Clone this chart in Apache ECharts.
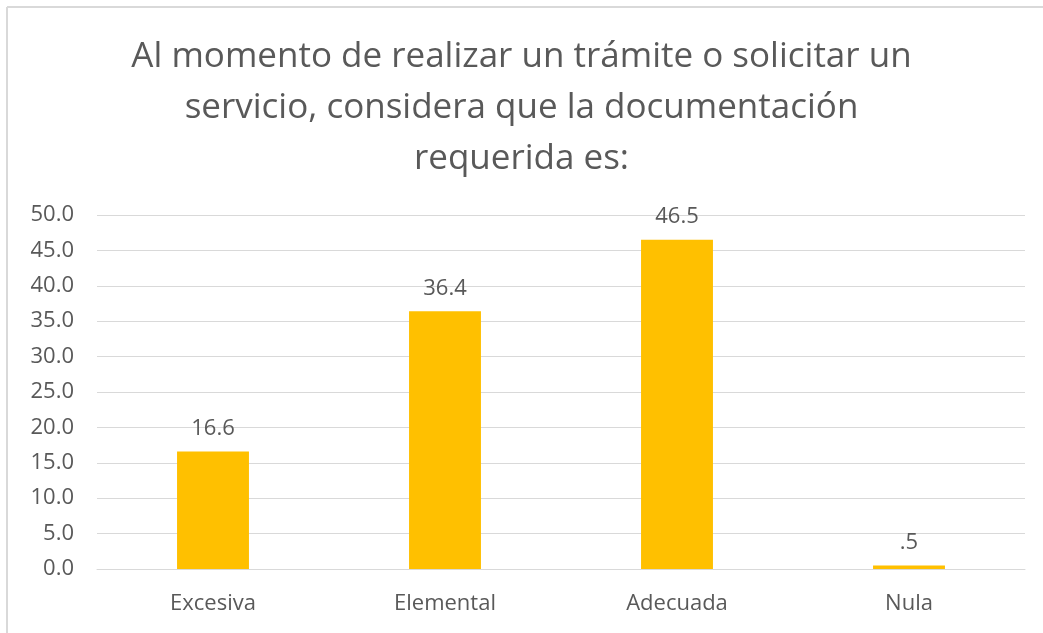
<!DOCTYPE html>
<html><head><meta charset="utf-8">
<script src="https://cdn.jsdelivr.net/npm/echarts@6/dist/echarts.min.js"></script>
<style>html,body{margin:0;padding:0;background:#fff}#c{width:1043px;height:633px}</style>
</head><body><div id="c"></div>
<script>
const titleText = "Al momento de realizar un trámite o solicitar un\nservicio, considera que la documentación\nrequerida es:";
const categories = ["Excesiva", "Elemental", "Adecuada", "Nula"];
const values = [16.6, 36.4, 46.5, 0.5];
const yMin = 0, yMax = 50, yStep = 5;

const chart = echarts.init(document.getElementById('c'), null, {renderer: 'canvas'});
chart.setOption({
  animation: false,
  backgroundColor: '#fff',
  textStyle: {fontFamily: 'Open Sans'},
  title: {
    text: titleText, left: 'center', top: 27,
    textStyle: {fontFamily: 'Open Sans', fontSize: 35, fontWeight: 'normal', color: '#595959', lineHeight: 51}
  },
  grid: {left: 97, right: 18, top: 215, bottom: 64, containLabel: false},
  xAxis: {
    type: 'category', data: categories,
    axisLine: {show: true, lineStyle: {color: '#D9D9D9', width: 1}},
    axisTick: {show: false},
    axisLabel: {color: '#595959', fontSize: 22, margin: 24, fontFamily: 'Open Sans'}
  },
  yAxis: {
    type: 'value', min: yMin, max: yMax, interval: yStep,
    axisLine: {show: false}, axisTick: {show: false},
    splitLine: {lineStyle: {color: '#D9D9D9', width: 1}},
    axisLabel: {color: '#595959', fontSize: 22, margin: 23, fontFamily: 'Open Sans',
      formatter: v => v.toFixed(1)}
  },
  series: [{
    type: 'bar', data: values, barWidth: '31%',
    itemStyle: {color: '#FFC000'},
    label: {show: true, position: 'top', distance: 12, color: '#595959', fontSize: 22, fontFamily: 'Open Sans',
      formatter: p => p.value < 1 ? String(p.value).replace(/^0/, '') : p.value.toFixed(1)}
  }],
  graphic: [
    {type: 'line', shape: {x1: 7, y1: 7, x2: 1043, y2: 7}, style: {stroke: '#D9D9D9', lineWidth: 2}},
    {type: 'line', shape: {x1: 7, y1: 7, x2: 7, y2: 633}, style: {stroke: '#D9D9D9', lineWidth: 2}}
  ]
});
</script></body></html>
